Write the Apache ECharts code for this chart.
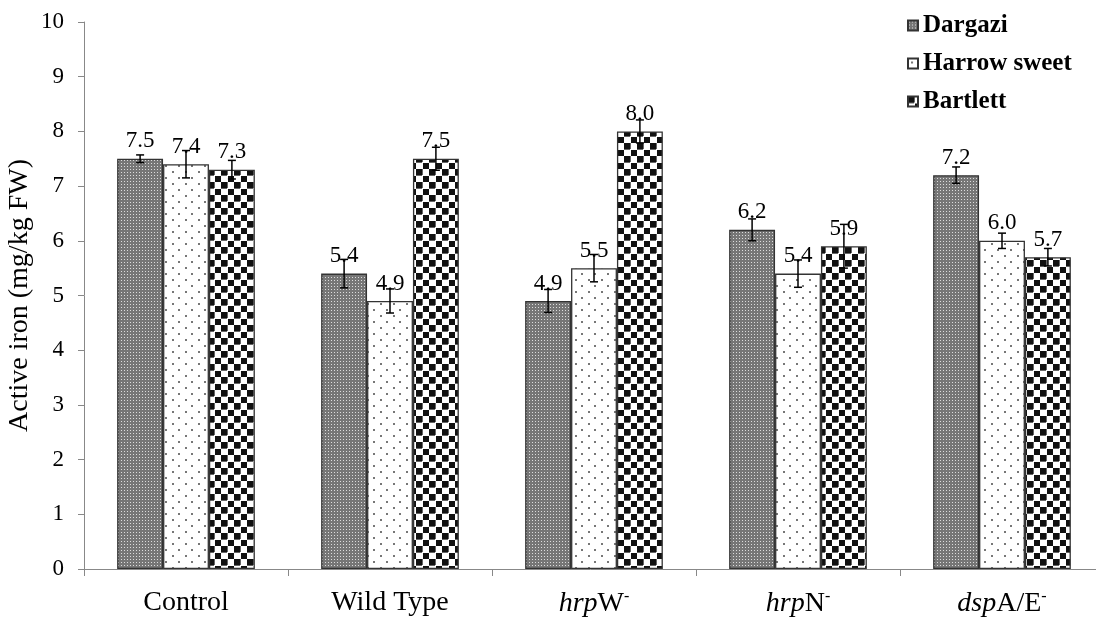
<!DOCTYPE html>
<html><head><meta charset="utf-8">
<script src="https://cdn.jsdelivr.net/npm/echarts@6/dist/echarts.min.js"></script>
<style>html,body{margin:0;padding:0;background:#fff}#c{width:1096px;height:618px}</style>
</head><body><div id="c"></div>
<script>
const categories = ['Control', 'Wild Type', 'hrpW', 'hrpN', 'dspA/E'];
const seriesNames = ['Dargazi', 'Harrow sweet', 'Bartlett'];
const dargazi = [7.5, 5.4, 4.9, 6.2, 7.2];
const harrowSweet = [7.4, 4.9, 5.5, 5.4, 6.0];
const bartlett = [7.3, 7.5, 8.0, 5.9, 5.7];
const dargaziErr = [0.07, 0.26, 0.21, 0.2, 0.15];
const harrowSweetErr = [0.25, 0.22, 0.25, 0.25, 0.14];
const bartlettErr = [0.17, 0.21, 0.21, 0.4, 0.16];
const yTicks = [0, 1, 2, 3, 4, 5, 6, 7, 8, 9, 10];

const values = [dargazi, harrowSweet, bartlett];
const errs = [dargaziErr, harrowSweetErr, bartlettErr];
const FONT = '"Liberation Serif", "Times New Roman", serif';
const CAT_GAP = 0.325;

function tile(w, h, draw) {
  const c = document.createElement('canvas');
  c.width = w; c.height = h;
  const ctx = c.getContext('2d');
  draw(ctx);
  return { image: c, repeat: 'repeat' };
}
const patterns = [
  tile(3, 3, ctx => { ctx.fillStyle = '#767676'; ctx.fillRect(0,0,3,3); ctx.fillStyle = '#dcdcdc'; ctx.fillRect(1,1,1,1); }),
  tile(13, 12, ctx => { ctx.fillStyle = '#fff'; ctx.fillRect(0,0,13,12); ctx.fillStyle = '#777'; ctx.fillRect(3,3,2,2); ctx.fillRect(9,9,2,2); }),
  tile(13, 13, ctx => { ctx.fillStyle = '#fff'; ctx.fillRect(0,0,13,13); ctx.fillStyle = '#111'; ctx.fillRect(0,0,6,6); ctx.fillRect(7,7,6,6); ctx.fillStyle='#666'; ctx.fillRect(6,0,1,6); ctx.fillRect(0,6,6,1); })
];

const catLabelMap = {
  'Control': 'Control',
  'Wild Type': 'Wild Type',
  'hrpW': '{i|hrp}W{s|-}',
  'hrpN': '{i|hrp}N{s|-}',
  'dspA/E': '{i|dsp}A/E{s|-}'
};

const series = [];
seriesNames.forEach((name, si) => {
  series.push({
    name: name,
    type: 'bar',
    data: values[si],
    barGap: '0%',
    barCategoryGap: (CAT_GAP * 100) + '%',
    itemStyle: { color: patterns[si], borderColor: '#333', borderWidth: 1.3 },
    label: {
      show: true, position: 'top', distance: 6,
      formatter: p => p.value.toFixed(1),
      fontFamily: FONT, fontSize: 23, color: '#000'
    },
    z: 2
  });
});
seriesNames.forEach((name, si) => {
  series.push({
    type: 'custom',
    name: name + ' err',
    data: values[si].map((v, i) => [i, v, errs[si][i]]),
    z: 10,
    renderItem: function (params, api) {
      const ci = api.value(0), v = api.value(1), e = api.value(2);
      const band = api.size([1, 0])[0];
      const bw = band * (1 - CAT_GAP) / 3;
      const c = api.coord([ci, v]);
      const x = c[0] + (si - 1) * bw;
      const yTop = api.coord([ci, v + e])[1];
      const yBot = api.coord([ci, v - e])[1];
      const cap = 4;
      const st = { stroke: '#000', lineWidth: 1.5 };
      return { type: 'group', children: [
        { type: 'line', shape: { x1: x, y1: yTop, x2: x, y2: yBot }, style: st },
        { type: 'line', shape: { x1: x - cap, y1: yTop, x2: x + cap, y2: yTop }, style: st },
        { type: 'line', shape: { x1: x - cap, y1: yBot, x2: x + cap, y2: yBot }, style: st }
      ]};
    }
  });
});

const chart = echarts.init(document.getElementById('c'), null, { renderer: 'canvas' });
chart.setOption({
  animation: false,
  backgroundColor: '#fff',
  grid: { left: 84, top: 22, bottom: 49, right: -8, containLabel: false, outerBoundsMode: 'none' },
  legend: {
    data: seriesNames,
    orient: 'vertical', left: 902, top: 8,
    icon: 'rect', itemWidth: 10, itemHeight: 10, itemGap: 13,
    textStyle: { fontFamily: FONT, fontWeight: 'bold', fontSize: 25, color: '#000' }
  },
  xAxis: {
    type: 'category', data: categories, boundaryGap: true,
    axisLine: { lineStyle: { color: '#888', width: 1 } },
    axisTick: { show: true, interval: 0, length: 7, lineStyle: { color: '#888' } },
    axisLabel: {
      interval: 0, hideOverlap: false,
      margin: 20, color: '#000', fontFamily: FONT, fontSize: 28,
      formatter: v => catLabelMap[v],
      rich: {
        i: { fontFamily: FONT, fontSize: 28, fontStyle: 'italic', color: '#000' },
        s: { fontFamily: FONT, fontSize: 16, color: '#000', verticalAlign: 'top', padding: [0, 0, 14, 0] }
      }
    },
    splitLine: { show: false }
  },
  yAxis: {
    type: 'value', min: yTicks[0], max: yTicks[yTicks.length - 1], interval: 1,
    name: 'Active iron (mg/kg FW)', nameLocation: 'middle', nameGap: 50,
    nameMoveOverlap: false,
    nameTextStyle: { fontFamily: FONT, fontSize: 28, color: '#000' },
    axisLine: { show: true, lineStyle: { color: '#888', width: 1 } },
    axisTick: { show: true, length: 6, lineStyle: { color: '#888' } },
    axisLabel: { margin: 20, color: '#000', fontFamily: FONT, fontSize: 23 },
    splitLine: { show: false }
  },
  series: series
});
</script></body></html>
